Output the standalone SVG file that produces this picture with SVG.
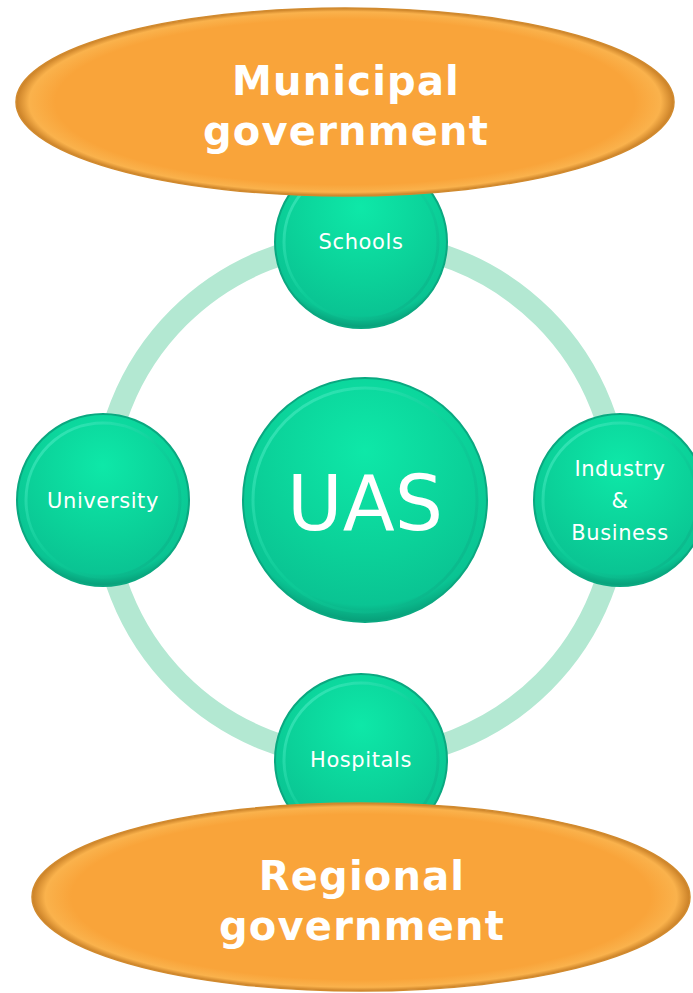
<svg xmlns="http://www.w3.org/2000/svg" width="693" height="993" viewBox="0 0 693 993">
<defs>
<radialGradient id="gBall" cx="50%" cy="30%" r="70%">
<stop offset="0" stop-color="#0ee8a8"/>
<stop offset="0.6" stop-color="#0bd199"/>
<stop offset="0.9" stop-color="#0ac493"/>
<stop offset="1" stop-color="#089d78"/>
</radialGradient>
<linearGradient id="gRim" x1="0" y1="0" x2="1" y2="1">
<stop offset="0" stop-color="#5ff5d0"/>
<stop offset="0.5" stop-color="#0ecf9a"/>
<stop offset="1" stop-color="#0aa882"/>
</linearGradient>
<radialGradient id="gOrange" cx="50%" cy="50%" r="50%">
<stop offset="0" stop-color="#f9a43a"/>
<stop offset="0.88" stop-color="#f9a43a"/>
<stop offset="0.96" stop-color="#fab24c"/>
<stop offset="1" stop-color="#c98027"/>
</radialGradient>
<style>
.ball{fill:url(#gBall);stroke:#0aa880;stroke-width:2}
.inner{fill:none;stroke:url(#gRim);stroke-width:3;opacity:0.6}
.gov{fill:url(#gOrange);stroke:#d18a2e;stroke-width:1.5}
.lbl{font-family:"DejaVu Sans",Verdana,sans-serif;fill:#ffffff;text-anchor:middle}
.small{font-size:21px;letter-spacing:0.6px}
.big{font-size:40px;font-weight:bold;letter-spacing:1.2px}
</style>
</defs>
<rect width="693" height="993" fill="#ffffff"/>
<g id="connectors">
<circle cx="361" cy="500" r="258" fill="none" stroke="#b3e8d2" stroke-width="22"/>
</g>
<g id="uas">
<circle class="ball" cx="365" cy="500" r="122"/>
<circle class="inner" cx="365" cy="500" r="112"/>
<text class="lbl" x="365" y="530" font-size="76">UAS</text>
</g>
<g id="schools">
<circle class="ball" cx="361" cy="242" r="86"/>
<circle class="inner" cx="361" cy="242" r="77"/>
<text class="lbl small" x="361" y="249">Schools</text>
</g>
<g id="university">
<circle class="ball" cx="103" cy="500" r="86"/>
<circle class="inner" cx="103" cy="500" r="77"/>
<text class="lbl small" x="103" y="508">University</text>
</g>
<g id="industry">
<circle class="ball" cx="620" cy="500" r="86"/>
<circle class="inner" cx="620" cy="500" r="77"/>
<text class="lbl small" x="620" y="476">Industry</text>
<text class="lbl small" x="620" y="508">&amp;</text>
<text class="lbl small" x="620" y="540">Business</text>
</g>
<g id="hospitals">
<circle class="ball" cx="361" cy="760" r="86"/>
<circle class="inner" cx="361" cy="760" r="77"/>
<text class="lbl small" x="361" y="767">Hospitals</text>
</g>
<g id="municipal">
<ellipse class="gov" cx="345" cy="102" rx="329" ry="94"/>
<text class="lbl big" x="346" y="95">Municipal</text>
<text class="lbl big" x="346" y="145">government</text>
</g>
<g id="regional">
<ellipse class="gov" cx="361" cy="897" rx="329" ry="94"/>
<text class="lbl big" x="362" y="890">Regional</text>
<text class="lbl big" x="362" y="940">government</text>
</g>
</svg>
